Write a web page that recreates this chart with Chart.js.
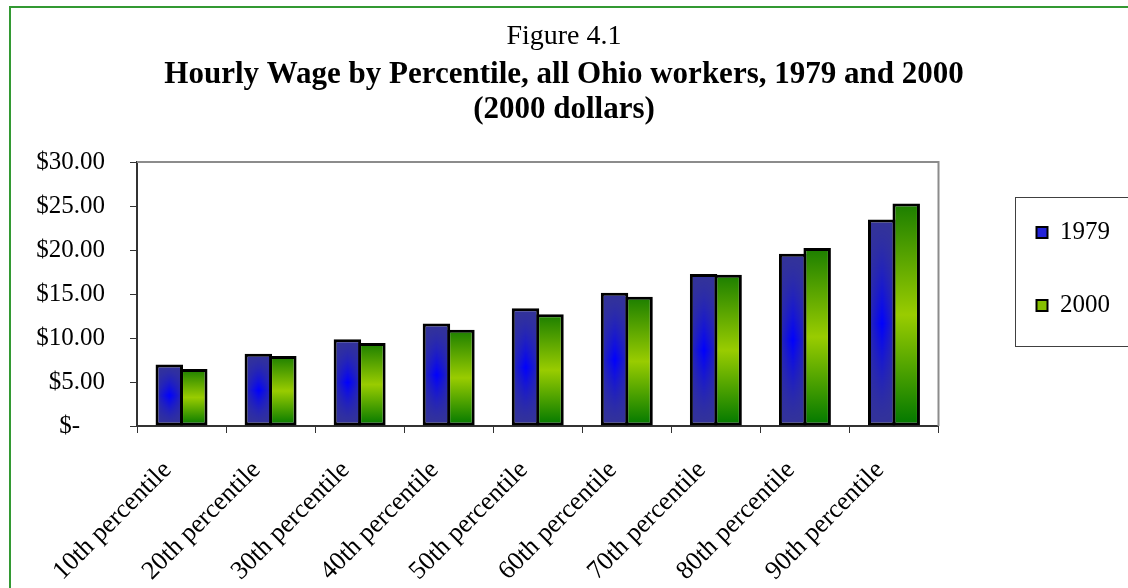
<!DOCTYPE html>
<html>
<head>
<meta charset="utf-8">
<title>Hourly Wage by Percentile, all Ohio workers, 1979 and 2000</title>
<script src="https://cdn.jsdelivr.net/npm/chart.js@4/dist/chart.umd.min.js"></script>
<style>
  html, body { margin: 0; padding: 0; background: #ffffff; overflow: hidden; }
  #wrap { width: 1128px; height: 588px; position: relative; }
</style>
</head>
<body>
<div id="wrap"><canvas id="chart" width="1128" height="588"></canvas></div>
<script>
// Wage percentiles (categories)
const percentiles = ['10th percentile', '20th percentile', '30th percentile', '40th percentile',
  '50th percentile', '60th percentile', '70th percentile', '80th percentile', '90th percentile'];

// Hourly wage, 2000 dollars
const wage1979 = [6.99, 8.20, 9.87, 11.66, 13.37, 15.15, 17.28, 19.59, 23.46];
const wage2000 = [6.49, 7.97, 9.42, 10.93, 12.69, 14.69, 17.20, 20.24, 25.28];

const seriesNames = ['1979', '2000'];

// Value axis
const axisMin = 0;
const axisMax = 30;
const axisStep = 5;

const FONT = '"Liberation Serif", "Times New Roman", Times, serif';
const CAT_PCT = 0.55;
const BAR_PCT = 1.122;   // neighbouring bars overlap by one border width
const BORDER_W = 3;

// Blue "from centre" fill: dark slate edges, pure blue core
const blueCache = {};
function blueFill(ctx, left, top, w, h) {
  const W = Math.max(1, Math.ceil(w));
  const H = Math.max(1, Math.ceil(h));
  const key = W + 'x' + H;
  let tile = blueCache[key];
  if (!tile) {
    tile = document.createElement('canvas');
    tile.width = W; tile.height = H;
    const g = tile.getContext('2d');
    const img = g.createImageData(W, H);
    const edge = [51, 51, 153], core = [0, 0, 255];
    for (let y = 0; y < H; y++) {
      const hy = Math.abs((y + 0.5) / H * 2 - 1);
      for (let x = 0; x < W; x++) {
        const hx = Math.abs((x + 0.5) / W * 2 - 1);
        const k = Math.pow(1 - hx, 0.8) * Math.pow(1 - hy, 1.5);
        const o = (y * W + x) * 4;
        img.data[o] = edge[0] + (core[0] - edge[0]) * k;
        img.data[o + 1] = edge[1] + (core[1] - edge[1]) * k;
        img.data[o + 2] = edge[2] + (core[2] - edge[2]) * k;
        img.data[o + 3] = 255;
      }
    }
    g.putImageData(img, 0, 0);
    blueCache[key] = tile;
  }
  const pat = ctx.createPattern(tile, 'no-repeat');
  pat.setTransform(new DOMMatrix([1, 0, 0, 1, left, top]));
  return pat;
}

// Green fill: dark green ends, yellow-green middle
function greenFill(ctx, top, base) {
  const gr = ctx.createLinearGradient(0, top, 0, base);
  gr.addColorStop(0, '#1b7e00');
  gr.addColorStop(0.5, '#99cc00');
  gr.addColorStop(1, '#007700');
  return gr;
}

const SWATCH = ['#2222d8', '#86bf00'];

function barFill(context) {
  const di = context.datasetIndex;
  if (context.type !== 'data') return SWATCH[di];
  const chart = context.chart;
  const xs = chart.scales.x, ys = chart.scales.y;
  if (!xs || !ys) return SWATCH[di];
  const i = context.dataIndex;
  const v = context.raw;
  const catW = xs.width / percentiles.length;
  const chunk = catW * CAT_PCT / 2;
  const bw = chunk * BAR_PCT;
  const center = xs.getPixelForValue(i) - catW * CAT_PCT / 2 + chunk * (di + 0.5);
  const top = ys.getPixelForValue(v);
  const base = ys.getPixelForValue(0);
  if (di === 0) return blueFill(chart.ctx, center - bw / 2, top, bw, base - top);
  return greenFill(chart.ctx, top, base);
}

const barStyle = {
  categoryPercentage: CAT_PCT,
  barPercentage: BAR_PCT,
  backgroundColor: barFill,
  borderColor: '#000000',
  borderWidth: BORDER_W,
  borderSkipped: false
};

// Page frame, plot frame and legend box
const framePlugin = {
  id: 'frames',
  beforeDraw(chart) {
    const c = chart.ctx;
    c.save();
    c.fillStyle = '#ffffff';
    c.fillRect(0, 0, chart.width, chart.height);
    c.strokeStyle = '#339933';
    c.lineWidth = 2;
    c.beginPath();
    c.moveTo(10, chart.height + 5);
    c.lineTo(10, 7);
    c.lineTo(chart.width + 5, 7);
    c.stroke();
    c.restore();
  },
  beforeDatasetsDraw(chart) {
    const a = chart.chartArea;
    const c = chart.ctx;
    c.save();
    c.strokeStyle = '#8c8c8c';
    c.lineWidth = 2;
    c.beginPath();
    c.moveTo(a.left, a.top);
    c.lineTo(a.right, a.top);
    c.lineTo(a.right, a.bottom);
    c.stroke();
    c.restore();
  },
  afterDraw(chart) {
    const lg = chart.legend;
    if (!lg || !lg.legendHitBoxes || !lg.legendHitBoxes.length) return;
    const hb = lg.legendHitBoxes;
    const first = hb[0], last = hb[hb.length - 1];
    const c = chart.ctx;
    c.save();
    c.strokeStyle = '#404040';
    c.lineWidth = 1;
    const left = Math.round(first.left - 22) + 0.5;
    const top = Math.round(first.top - 23) + 0.5;
    const bottom = Math.round(last.top + last.height + 28) + 0.5;
    c.strokeRect(left, top, chart.width + 10 - left, bottom - top);
    c.restore();
  }
};

new Chart(document.getElementById('chart'), {
  type: 'bar',
  data: {
    labels: percentiles,
    datasets: [
      Object.assign({ label: seriesNames[0], data: wage1979 }, barStyle),
      Object.assign({ label: seriesNames[1], data: wage2000 }, barStyle)
    ]
  },
  options: {
    responsive: false,
    animation: false,
    devicePixelRatio: 1,
    layout: { padding: { left: 8, right: 8, top: 0, bottom: 0 } },
    scales: {
      x: {
        offset: true,
        afterFit(s) { s.height = 162; },
        grid: { display: true, drawOnChartArea: false, drawTicks: true, tickLength: 7, color: '#333333', offset: true },
        border: { display: true, color: '#333333', width: 2 },
        ticks: {
          autoSkip: false, maxRotation: 45, minRotation: 45,
          padding: 22, labelOffset: -14,
          color: '#000000',
          font: { family: FONT, size: 26 }
        }
      },
      y: {
        min: axisMin, max: axisMax,
        afterFit(s) { s.width = 129; },
        grid: { display: true, drawOnChartArea: false, drawTicks: true, tickLength: 7, color: '#333333' },
        border: { display: true, color: '#333333', width: 2 },
        ticks: {
          stepSize: axisStep,
          padding: 25,
          color: '#000000',
          font: { family: FONT, size: 25 },
          callback: (v) => v === 0 ? '$-\u2007\u2007' : '$' + Number(v).toFixed(2)
        }
      },
      gap: {
        type: 'linear',
        position: 'right',
        display: true,
        afterFit(s) { s.width = 50; },
        grid: { display: false },
        border: { display: false },
        ticks: { display: false }
      }
    },
    plugins: {
      colors: { enabled: false },
      title: {
        display: true,
        text: 'Figure 4.1',
        color: '#000000',
        font: { family: FONT, size: 28, weight: 'normal', lineHeight: 1.2 },
        padding: { top: 20, bottom: 0 }
      },
      subtitle: {
        display: true,
        text: ['Hourly Wage by Percentile, all Ohio workers, 1979 and 2000', '(2000 dollars)'],
        color: '#000000',
        font: { family: FONT, size: 31, weight: 'bold', lineHeight: 1.13 },
        padding: { top: 3.9, bottom: 34.5 }
      },
      legend: {
        display: true,
        position: 'right',
        align: 'start',
        fullSize: false,
        title: { display: true, text: '', padding: 0, font: { family: FONT, size: 10, lineHeight: 1 } },
        labels: {
          color: '#000000',
          font: { family: FONT, size: 25 },
          boxWidth: 11,
          boxHeight: 11,
          padding: 48,
          generateLabels(chart) {
            return chart.data.datasets.map((ds, i) => ({
              text: ds.label,
              fillStyle: SWATCH[i],
              strokeStyle: '#000000',
              lineWidth: 2,
              hidden: false,
              datasetIndex: i,
              fontColor: '#000000'
            }));
          }
        }
      },
      tooltip: { enabled: false }
    }
  },
  plugins: [framePlugin]
});
</script>
</body>
</html>
